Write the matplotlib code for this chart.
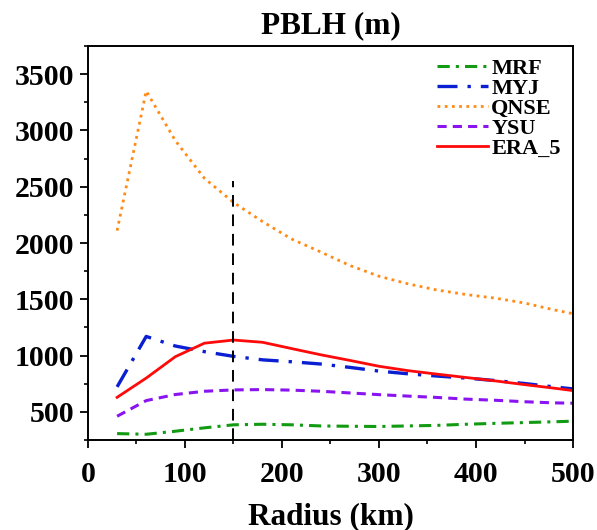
import matplotlib
matplotlib.use("Agg")
import matplotlib.pyplot as plt
from matplotlib.ticker import MultipleLocator

# radius (km)
radius = [30, 60, 90, 120, 150, 180, 210, 240, 270, 300, 330, 360, 390, 420, 450, 480, 500]

# PBLH (m) for each scheme
mrf = [307, 301, 328, 358, 385, 390, 385, 375, 372, 370, 375, 380, 390, 398, 405, 412, 417]
myj = [722, 1170, 1085, 1035, 993, 962, 945, 925, 895, 862, 838, 818, 800, 778, 752, 722, 704]
qnse = [2110, 3350, 2910, 2575, 2360, 2190, 2035, 1920, 1800, 1705, 1637, 1582, 1542, 1510, 1467, 1407, 1372]
ysu = [461, 600, 654, 683, 695, 698, 693, 683, 668, 653, 640, 628, 613, 603, 590, 580, 577]
era5 = [629, 800, 990, 1110, 1138, 1118, 1062, 1007, 957, 905, 866, 835, 805, 775, 742, 711, 689]

plt.rcParams['font.family'] = ['Liberation Serif', 'DejaVu Serif']
plt.rcParams['font.weight'] = 'bold'

fig = plt.figure(figsize=(5.97, 5.30), dpi=100)
ax = fig.add_axes([0.1474, 0.1698, 0.8124, 0.7434])

ax.plot(radius, mrf, color='#129a12', lw=2.2, ls=(0, (4, 2, 1, 2)), label='MRF')
ax.plot(radius, myj, color='#0a1ed2', lw=2.4, ls=(0, (6, 3, 1, 3)), label='MYJ')
ax.plot(radius, qnse, color='#ff8a14', lw=2.0, ls=(0, (1, 1.6)), label='QNSE')
ax.plot(radius, ysu, color='#8a14f0', lw=2.2, ls=(0, (3, 2)), label='YSU')
ax.plot(radius, era5, color='#ff0a0a', lw=2.0, ls='-', label='ERA_5')

ax.vlines(150, 250, 2550, colors='black', linestyles=(0, (6, 4)), lw=1.4)

ax.set_xlim(0, 500)
ax.set_ylim(250, 3750)
ax.xaxis.set_major_locator(MultipleLocator(100))
ax.xaxis.set_minor_locator(MultipleLocator(50))
ax.yaxis.set_minor_locator(MultipleLocator(250))
ax.set_yticks([500, 1000, 1500, 2000, 2500, 3000, 3500])

ax.tick_params(which='major', direction='out', length=6, width=1.3, labelsize=21.5)
ax.tick_params(axis='x', which='major', pad=9)
ax.tick_params(axis='y', which='major', pad=4)
ax.tick_params(which='minor', direction='out', length=3, width=1.2)
for side in ['left', 'bottom', 'top', 'right']:
    ax.spines[side].set_linewidth(1.4)

ax.set_title('PBLH (m)', fontsize=22.5, fontweight='bold', pad=9)
ax.set_xlabel('Radius (km)', fontsize=22.5, fontweight='bold', labelpad=10)

ax.legend(loc='upper right', bbox_to_anchor=(1.0, 1.0), frameon=False,
          handlelength=2.3, handletextpad=0.15, labelspacing=-0.02,
          borderaxespad=0.3, borderpad=0.25,
          prop={'weight': 'bold', 'size': 16})

fig.savefig('out.png', dpi=100)
